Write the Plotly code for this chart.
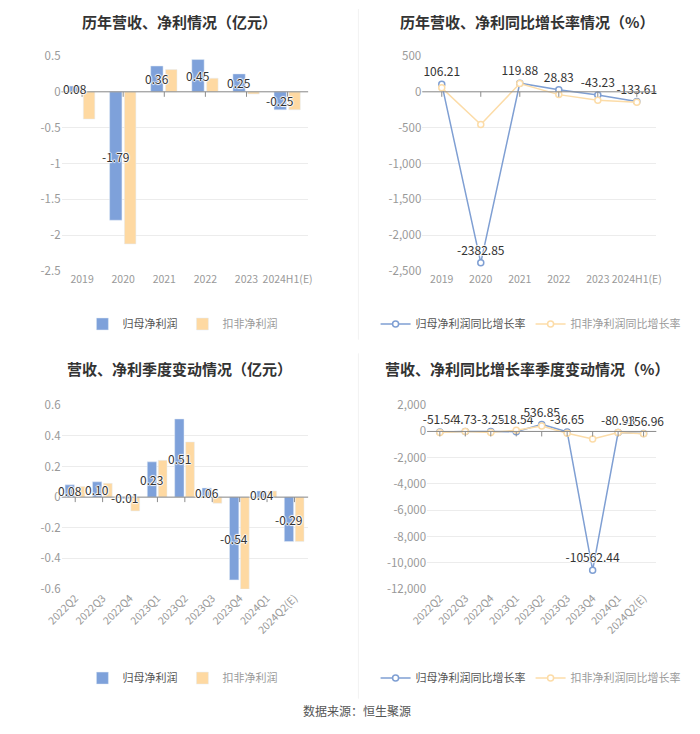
import plotly.graph_objects as go

# ---------------- data ----------------
years = ["2019", "2020", "2021", "2022", "2023", "2024H1(E)"]
annual_np = [0.08, -1.79, 0.36, 0.45, 0.25, -0.25]
annual_dnp = [-0.38, -2.12, 0.31, 0.19, -0.03, -0.25]
annual_np_g = [106.21, -2382.85, 119.88, 28.83, -43.23, -133.61]
annual_dnp_g = [55, -455, 115, -39, -116, -145]

quarters = ["2022Q2", "2022Q3", "2022Q4", "2023Q1", "2023Q2", "2023Q3",
            "2023Q4", "2024Q1", "2024Q2(E)"]
q_np = [0.08, 0.10, -0.01, 0.23, 0.51, 0.06, -0.54, 0.04, -0.29]
q_dnp = [0.07, 0.09, -0.09, 0.24, 0.36, -0.04, -0.60, 0.04, -0.29]
q_np_g = [-51.54, 4.73, -3.25, -18.54, 536.85, -36.65, -10562.44, -80.93, -156.96]
q_dnp_g = [-75, 5, -80, 90, 414, -144, -567, -83, -181]

ticks1 = [0.5, 0, -0.5, -1, -1.5, -2, -2.5]
ticks1_text = ["0.5", "0", "-0.5", "-1", "-1.5", "-2", "-2.5"]
ticks2 = [500, 0, -500, -1000, -1500, -2000, -2500]
ticks2_text = ["500", "0", "-500", "-1,000", "-1,500", "-2,000", "-2,500"]
ticks3 = [0.6, 0.4, 0.2, 0, -0.2, -0.4, -0.6]
ticks3_text = ["0.6", "0.4", "0.2", "0", "-0.2", "-0.4", "-0.6"]
ticks4 = [2000, 0, -2000, -4000, -6000, -8000, -10000, -12000]
ticks4_text = ["2,000", "0", "-2,000", "-4,000", "-6,000", "-8,000", "-10,000", "-12,000"]

titles = ["历年营收、净利情况（亿元）", "历年营收、净利同比增长率情况（%）",
          "营收、净利季度变动情况（亿元）", "营收、净利同比增长率季度变动情况（%）"]
bar_names = ["归母净利润", "扣非净利润"]
line_names = ["归母净利润同比增长率", "扣非净利润同比增长率"]
source_text = "数据来源：恒生聚源"

# ---------------- style ----------------
W, H = 700, 734
FONT = "Noto Sans CJK SC, Microsoft YaHei, sans-serif"
BLUE = "#7ea1da"
ORANGE = "#fed9a2"
LBLUE = "#7f9fd3"
LORANGE = "#fcdca8"
SHADOW = "1px 0px 1px #fff, -1px 0px 1px #fff, 0px 1px 1px #fff, 0px -1px 1px #fff"

BAR_W1, BAR_OFF1 = 0.3, -0.33
BAR_W3, BAR_OFF3 = 0.34, -0.37


def px_x(a, b):
    return [a / W, b / W]


def px_y(top, bottom):
    return [1 - bottom / H, 1 - top / H]


fig = go.Figure()

# chart 1: annual bars
fig.add_trace(go.Bar(
    x=years, y=annual_np, name=bar_names[0], marker_color=BLUE,
    width=BAR_W1, offset=BAR_OFF1, xaxis="x", yaxis="y", legend="legend"))
fig.add_trace(go.Bar(
    x=years, y=annual_dnp, name=f"<span style='color:#9a9a9a'>{bar_names[1]}</span>",
    marker_color=ORANGE, width=0.28, offset=0.03, xaxis="x", yaxis="y",
    legend="legend"))

# chart 2: annual growth lines
fig.add_trace(go.Scatter(
    x=years, y=annual_np_g, name=line_names[0], mode="lines+markers+text",
    line=dict(color=LBLUE, width=1.5),
    marker=dict(symbol="circle", size=6, color="white", line=dict(color=LBLUE, width=1.5)),
    text=[f"{v:.2f}" for v in annual_np_g], textposition="top center",
    textfont=dict(color="#333", size=12, family=FONT, shadow=SHADOW),
    xaxis="x2", yaxis="y2", legend="legend2", cliponaxis=False))
fig.add_trace(go.Scatter(
    x=years, y=annual_dnp_g, name=f"<span style='color:#9a9a9a'>{line_names[1]}</span>",
    mode="lines+markers",
    line=dict(color=LORANGE, width=1.5),
    marker=dict(symbol="circle", size=6, color="white", line=dict(color=LORANGE, width=1.5)),
    xaxis="x2", yaxis="y2", legend="legend2", cliponaxis=False))

# chart 3: quarterly bars
fig.add_trace(go.Bar(
    x=quarters, y=q_np, name=bar_names[0], marker_color=BLUE,
    width=BAR_W3, offset=BAR_OFF3, xaxis="x3", yaxis="y3", legend="legend3"))
fig.add_trace(go.Bar(
    x=quarters, y=q_dnp, name=f"<span style='color:#9a9a9a'>{bar_names[1]}</span>",
    marker_color=ORANGE, width=0.32, offset=0.03, xaxis="x3", yaxis="y3",
    legend="legend3"))

# chart 4: quarterly growth lines
fig.add_trace(go.Scatter(
    x=quarters, y=q_np_g, name=line_names[0], mode="lines+markers+text",
    line=dict(color=LBLUE, width=1.5),
    marker=dict(symbol="circle", size=6, color="white", line=dict(color=LBLUE, width=1.5)),
    text=[f"{v:.2f}" for v in q_np_g], textposition="top center",
    textfont=dict(color="#333", size=12, family=FONT, shadow=SHADOW),
    xaxis="x4", yaxis="y4", legend="legend4", cliponaxis=False))
fig.add_trace(go.Scatter(
    x=quarters, y=q_dnp_g, name=f"<span style='color:#9a9a9a'>{line_names[1]}</span>",
    mode="lines+markers",
    line=dict(color=LORANGE, width=1.5),
    marker=dict(symbol="circle", size=6, color="white", line=dict(color=LORANGE, width=1.5)),
    xaxis="x4", yaxis="y4", legend="legend4", cliponaxis=False))

# ---------------- axes ----------------
xdom = {1: px_x(45, 300), 2: px_x(418, 660), 3: px_x(45, 300), 4: px_x(423, 660)}
ydom = {1: px_y(48, 268), 2: px_y(48, 268), 3: px_y(405, 593), 4: px_y(405, 593)}
yranges = {1: [-2.5, 0.5], 2: [-2500, 500], 3: [-0.6, 0.6], 4: [-12000, 2000]}
ytv = {1: (ticks1, ticks1_text), 2: (ticks2, ticks2_text),
       3: (ticks3, ticks3_text), 4: (ticks4, ticks4_text)}
ncat = {1: len(years), 2: len(years), 3: len(quarters), 4: len(quarters)}

layout = {}
for k in range(1, 5):
    xs = "xaxis" if k == 1 else f"xaxis{k}"
    ys = "yaxis" if k == 1 else f"yaxis{k}"
    yref = "y" if k == 1 else f"y{k}"
    xref = "x" if k == 1 else f"x{k}"
    layout[xs] = dict(
        domain=xdom[k], anchor=yref, type="category", range=[-0.5, ncat[k] - 0.5],
        showgrid=False, zeroline=False, showline=False, ticks="",
        tickfont=dict(color="#999", size=10.5, family=FONT),
        tickangle=-45 if k >= 3 else 0, fixedrange=True)
    layout[ys] = dict(
        domain=ydom[k], anchor=xref, range=yranges[k],
        tickvals=ytv[k][0], ticktext=ytv[k][1],
        showgrid=True, gridcolor="#ececec", gridwidth=1, zeroline=False,
        showline=False, ticks="", tickfont=dict(color="#999", size=11.5, family=FONT),
        fixedrange=True)

shapes = []
for k in range(1, 5):
    xref = "x" if k == 1 else f"x{k}"
    yref = "y" if k == 1 else f"y{k}"
    shapes.append(dict(type="line", xref=f"{xref} domain", yref=yref, x0=0, x1=1,
                       y0=0, y1=0, line=dict(color="#8c8c8c", width=1), layer="above"))
    for i in range(ncat[k]):
        shapes.append(dict(type="line", xref=xref, yref=yref, x0=i, x1=i,
                           ysizemode="pixel", yanchor=0, y0=0, y1=-5,
                           line=dict(color="#8c8c8c", width=1), layer="above"))
# divider
shapes.append(dict(type="line", xref="paper", yref="paper", x0=352 / W, x1=352 / W,
                   y0=1 - 338 / H, y1=1, line=dict(color="#f2f2f2", width=1)))
shapes.append(dict(type="line", xref="paper", yref="paper", x0=352 / W, x1=352 / W,
                   y0=1 - 705 / H, y1=1 - 352 / H, line=dict(color="#f2f2f2", width=1)))

annotations = []
# bar value labels centred in the blue bars
for i, v in enumerate(annual_np):
    annotations.append(dict(text=f"{v:.2f}", x=i + BAR_OFF1 + BAR_W1 / 2, y=v / 2,
                            xref="x", yref="y", showarrow=False,
                            xanchor="center", yanchor="middle",
                            font=dict(size=12, color="#333", family=FONT, shadow=SHADOW)))
for i, v in enumerate(q_np):
    annotations.append(dict(text=f"{v:.2f}", x=i + BAR_OFF3 + BAR_W3 / 2, y=v / 2,
                            xref="x3", yref="y3", showarrow=False,
                            xanchor="center", yanchor="middle",
                            font=dict(size=12, color="#333", family=FONT, shadow=SHADOW)))

title_pos = [(167, 13), (526, 13), (167, 367), (526, 367)]
for t, (cx, cy) in zip(titles, title_pos):
    annotations.append(dict(text=f"<b>{t}</b>", x=cx / W, y=1 - cy / H, xref="paper",
                            yref="paper", xanchor="center", yanchor="middle",
                            showarrow=False, font=dict(size=15, color="#333", family=FONT)))
annotations.append(dict(text=source_text, x=350 / W, y=1 - 717 / H, xref="paper",
                        yref="paper", xanchor="center", yanchor="middle", showarrow=False,
                        font=dict(size=12, color="#555", family=FONT)))

leg_pos = {"legend": (170, 322), "legend2": (530, 322), "legend3": (170, 684), "legend4": (530, 684)}
for name, (cx, cy) in leg_pos.items():
    layout[name] = dict(orientation="h", x=cx / W, y=1 - cy / H, xanchor="center",
                        yanchor="middle", bgcolor="rgba(0,0,0,0)",
                        font=dict(size=11, color="#555", family=FONT),
                        itemwidth=30, tracegroupgap=0)

fig.update_layout(
    width=W, height=H, margin=dict(l=0, r=0, t=0, b=0),
    paper_bgcolor="white", plot_bgcolor="white",
    barmode="overlay", showlegend=True,
    font=dict(family=FONT),
    shapes=shapes, annotations=annotations, **layout)

fig.write_html("out.html")
